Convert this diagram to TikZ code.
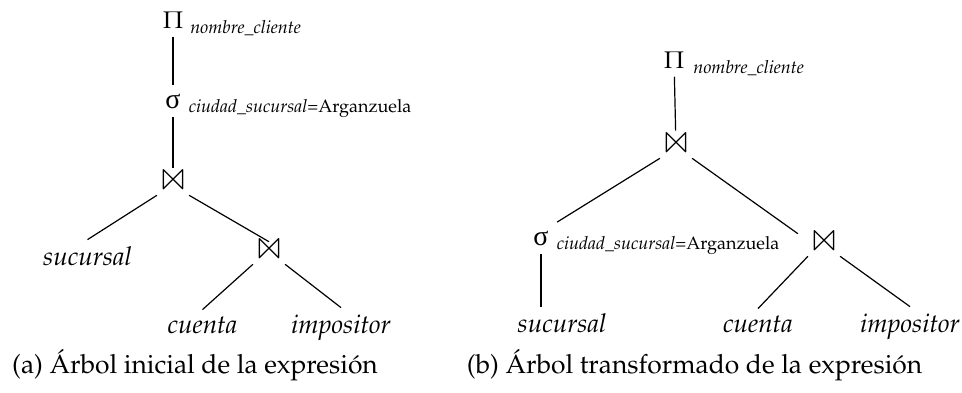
\documentclass[tikz,border=0pt]{standalone}
\usepackage[no-math]{fontspec}
\usepackage[T1]{fontenc}
\usepackage{mathpazo}
\usepackage{latexsym}
\usepackage{tikz}
\newfontfamily\grkfont{Liberation Serif}

\begin{document}
\begin{tikzpicture}[x=0.5pt, y=-0.5pt, line width=0.6pt,
	every node/.style={font=\fontsize{12}{14}\selectfont},
	op/.style={inner sep=4pt, anchor=base},
	sel/.style={font=\fontsize{14}{16}\grkfont, inner sep=4pt, anchor=base},
	joinop/.style={font=\fontsize{17}{20}\selectfont, inner sep=1.5pt},
	sub/.style={font=\fontsize{9}{10}\selectfont, inner sep=0pt, anchor=base west},
	leaf/.style={font=\fontsize{13}{15}\selectfont\itshape, inner sep=3pt, anchor=base},
	caption/.style={font=\fontsize{13.2}{16}\selectfont, inner sep=0pt, anchor=base}]
	\useasboundingbox (0,0) rectangle (962,392);

	% (a) arbol inicial
	\node[op] (pa) at (173,28) {$\Pi$};
	\node[sub] (pasub) at ([xshift=-1pt,yshift=-2.5pt]pa.base east) {\textit{nombre\_cliente}};
	\node[sel] (sa) at (173,108) {σ};
	\node[sub] (sasub) at ([xshift=-0.5pt,yshift=-2pt]sa.base east) {\textit{ciudad\_sucursal}=Arganzuela};
	\node[joinop] (ja1) at (173,184) {$\Join$};
	\node[joinop] (ja2) at (269,253) {$\Join$};
	\node[leaf] (suca) at (87.5,265) {sucursal};
	\node[leaf] (cuea) at (202.5,333) {cuenta};
	\node[leaf] (impa) at (341,333) {impositor};
	\draw (pa) -- (sa);
	\draw[shorten >=2.5pt] (sa) -- (ja1);
	\draw (ja1.south west) -- (suca.north);
	\draw (ja1.south east) -- (ja2.north);
	\draw (ja2.south west) -- (cuea.north);
	\draw (ja2.south east) -- (impa.north);
	\node[caption] (capa) at (195,373) {(a) \'Arbol inicial de la expresi\'on};

	% (b) arbol transformado
	\node[op] (pb) at (674,68) {$\Pi$};
	\node[sub] (pbsub) at ([yshift=-2.5pt]pb.base east) {\textit{nombre\_cliente}};
	\node[joinop] (jb1) at (676,147) {$\Join$};
	\node[sel] (sb) at (541,245) {σ};
	\node[sub] (sbsub) at ([xshift=-0.5pt,yshift=-2pt]sb.base east) {\textit{ciudad\_sucursal}=Arganzuela};
	\node[joinop] (jb2) at (824,245) {$\Join$};
	\node[leaf] (sucb) at (562,332) {sucursal};
	\node[leaf] (cueb) at (758,332) {cuenta};
	\node[leaf] (impb) at (910,332) {impositor};
	\draw[shorten >=2.5pt] (pb) -- (jb1);
	\draw (jb1.south west) -- (sb.north east);
	\draw (jb1.south east) -- ([xshift=-5pt]jb2.north west);
	\draw (sb) -- (sb |- sucb.north);
	\draw (jb2.south west) -- (cueb.north);
	\draw (jb2.south east) -- (impb.north);
	\node[caption] (capb) at (694.5,373) {(b) \'Arbol transformado de la expresi\'on};

\end{tikzpicture}
\end{document}
